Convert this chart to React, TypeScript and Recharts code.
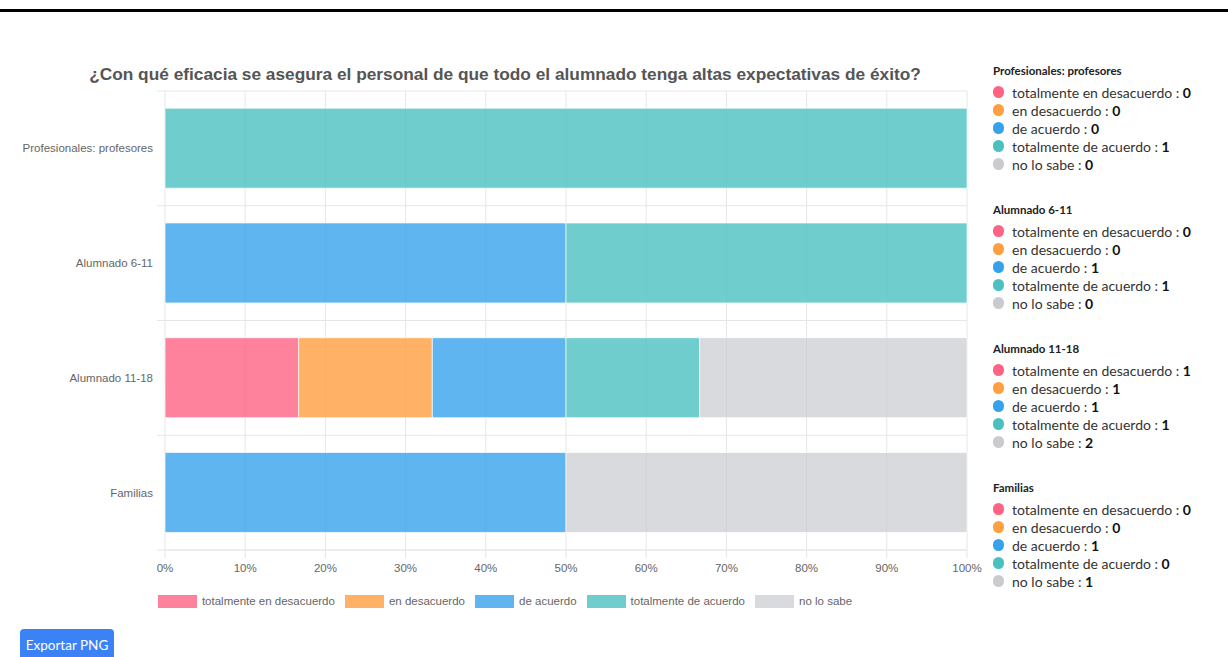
import { Bar, BarChart, CartesianGrid, Legend, XAxis, YAxis } from 'recharts';

const title = '¿Con qué eficacia se asegura el personal de que todo el alumnado tenga altas expectativas de éxito?';

const categories = ['Profesionales: profesores', 'Alumnado 6-11', 'Alumnado 11-18', 'Familias'];

// counts per category
const totalmenteEnDesacuerdo = [0, 0, 1, 0];
const enDesacuerdo = [0, 0, 1, 0];
const deAcuerdo = [0, 1, 1, 1];
const totalmenteDeAcuerdo = [1, 1, 1, 0];
const noLoSabe = [0, 0, 2, 1];

const percentTicks = [0, 0.1, 0.2, 0.3, 0.4, 0.5, 0.6, 0.7, 0.8, 0.9, 1];

const series = [
  { key: 'ted', label: 'totalmente en desacuerdo', values: totalmenteEnDesacuerdo, color: '#ff6384', opacity: 0.8 },
  { key: 'ed', label: 'en desacuerdo', values: enDesacuerdo, color: '#ff9f40', opacity: 0.8 },
  { key: 'da', label: 'de acuerdo', values: deAcuerdo, color: '#36a2eb', opacity: 0.8 },
  { key: 'tda', label: 'totalmente de acuerdo', values: totalmenteDeAcuerdo, color: '#4bc0c0', opacity: 0.8 },
  { key: 'nls', label: 'no lo sabe', values: noLoSabe, color: '#c9cbcf', opacity: 0.7 },
];

const data = categories.map((name, i) => {
  const row: Record<string, string | number> = { name };
  series.forEach((s) => {
    row[s.key] = s.values[i];
  });
  return row;
});

const chartFont = '"Liberation Sans", Arial, sans-serif';
const sideFont = 'Lato, "Noto Sans", sans-serif';
const gridColor = '#e6e6e6';

function BottomLegend() {
  return (
    <div
      style={{
        height: 30,
        paddingTop: 14,
        boxSizing: 'border-box',
        display: 'flex',
        justifyContent: 'center',
        fontFamily: chartFont,
        fontSize: 11.5,
        color: '#666',
      }}
    >
      {series.map((s, i) => (
        <div
          key={s.key}
          style={{ display: 'flex', alignItems: 'center', height: 14, marginLeft: i === 0 ? 0 : 10 }}
        >
          <span
            style={{
              width: 39,
              height: 13,
              background: s.color,
              opacity: s.opacity,
              marginRight: 5,
              display: 'inline-block',
            }}
          />
          <span style={{ lineHeight: '14px', whiteSpace: 'nowrap' }}>{s.label}</span>
        </div>
      ))}
    </div>
  );
}

function SideLegend() {
  return (
    <div style={{ position: 'absolute', left: 993, top: 63, fontFamily: sideFont, color: '#222' }}>
      {categories.map((cat, ci) => (
        <div key={cat} style={{ marginBottom: 29 }}>
          <div style={{ fontSize: 11.5, fontWeight: 700, lineHeight: '16px', marginBottom: 4, color: '#222' }}>{cat}</div>
          {series.map((s) => (
            <div key={s.key} style={{ display: 'flex', alignItems: 'center', height: 18, fontSize: 14, whiteSpace: 'nowrap' }}>
              <span
                style={{
                  width: 11,
                  height: 12,
                  borderRadius: 6,
                  background: s.color,
                  display: 'inline-block',
                  marginRight: 8,
                }}
              />
              <span style={{ color: '#333' }}>
                {s.label} : <b style={{ color: '#111' }}>{s.values[ci]}</b>
              </span>
            </div>
          ))}
        </div>
      ))}
    </div>
  );
}

export default function App() {
  return (
    <div
      style={{
        position: 'absolute',
        left: 0,
        top: 0,
        width: 1228,
        height: 657,
        overflow: 'hidden',
        background: '#fff',
      }}
    >
      <div style={{ position: 'absolute', left: 0, top: 9, width: 1228, height: 3, background: '#000' }} />
      <div
        style={{
          position: 'absolute',
          left: 0,
          top: 64,
          width: 1010,
          textAlign: 'center',
          fontFamily: chartFont,
          fontWeight: 700,
          fontSize: 17.3,
          lineHeight: '20px',
          color: '#555',
          whiteSpace: 'nowrap',
        }}
      >
        {title}
      </div>
      <div style={{ position: 'absolute', left: 0, top: 0 }}>
        <BarChart
          width={1010}
          height={610}
          data={data}
          layout="vertical"
          stackOffset="expand"
          barCategoryGap="15%"
          margin={{ top: 91, right: 43, bottom: 0, left: 0 }}
        >
          <CartesianGrid
            stroke={gridColor}
            horizontalCoordinatesGenerator={({ offset }: any) =>
              Array.from({ length: categories.length + 1 }, (_, i) => offset.top + (i * offset.height) / categories.length)
            }
            horizontal={(p: any) => (
              <line key={`h-${p.index}`} x1={p.x1 - 8} y1={p.y1} x2={p.x2} y2={p.y2} stroke={gridColor} strokeWidth={1} />
            )}
            vertical={(p: any) => (
              <line key={`v-${p.index}`} x1={p.x1} y1={p.y1} x2={p.x2} y2={p.y2 + 8} stroke={gridColor} strokeWidth={1} />
            )}
          />
          <XAxis
            type="number"
            domain={[0, 1]}
            ticks={percentTicks}
            tickFormatter={(v: number) => `${Math.round(v * 100)}%`}
            height={30}
            tickLine={false}
            tickSize={8}
            tickMargin={6}
            axisLine={{ stroke: gridColor }}
            tick={{ fill: '#666', fontSize: 11.5, fontFamily: chartFont }}
          />
          <YAxis
            type="category"
            dataKey="name"
            width={165}
            tickLine={false}
            axisLine={false}
            tickSize={8}
            tickMargin={4}
            tick={{ fill: '#666', fontSize: 11.5, fontFamily: chartFont }}
          />
          <Legend
            verticalAlign="bottom"
            content={() => <BottomLegend />}
            wrapperStyle={{ left: 0, width: 1010 }}
          />
          {series.map((s) => (
            <Bar
              key={s.key}
              dataKey={s.key}
              name={s.label}
              stackId="a"
              fill={s.color}
              fillOpacity={s.opacity}
              stroke="#ffffff"
              strokeOpacity={0.7}
              strokeWidth={1}
              isAnimationActive={false}
            />
          ))}
        </BarChart>
      </div>
      <SideLegend />
      <div
        style={{
          position: 'absolute',
          left: 20,
          top: 629,
          width: 94,
          height: 34,
          background: '#3b82f6',
          borderRadius: 4,
          color: '#fff',
          fontFamily: sideFont,
          fontSize: 13.5,
          boxSizing: 'border-box',
          paddingTop: 8,
          textAlign: 'center',
        }}
      >
        Exportar PNG
      </div>
    </div>
  );
}
